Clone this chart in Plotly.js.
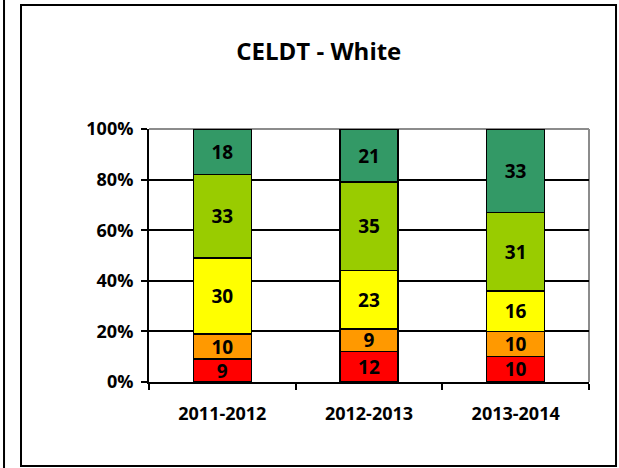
<!DOCTYPE html>
<html><head><meta charset="utf-8">
<script src="https://cdn.plot.ly/plotly-3.0.1.min.js"></script>
<style>html,body{margin:0;padding:0;background:#fff;}#chart{width:619px;height:468px;}</style>
</head><body><div id="chart"></div>
<script>
const years = ['2011-2012', '2012-2013', '2013-2014'];
const level1 = [9, 12, 10];
const level2 = [10, 9, 10];
const level3 = [30, 23, 16];
const level4 = [33, 35, 31];
const level5 = [18, 21, 33];
const seriesNames = ['Beginning', 'Early Intermediate', 'Intermediate', 'Early Advanced', 'Advanced'];
const yTickVals = [0, 20, 40, 60, 80, 100];
const yTickText = ['0%', '20%', '40%', '60%', '80%', '100%'];
const colors = ['#FF0000', '#FF9900', '#FFFF00', '#99CC00', '#339966'];
const FONT = 'Open Sans, Lato, Liberation Sans, sans-serif';

const all = [level1, level2, level3, level4, level5];
const traces = all.map((vals, i) => ({
  type: 'bar', x: years, y: vals, name: seriesNames[i],
  marker: {color: colors[i], line: {color: '#000', width: 1.5}},
  text: vals.map(String), textposition: 'inside', insidetextanchor: 'middle',
  textangle: 0, constraintext: 'none',
  textfont: {family: FONT, size: 19, color: '#000', weight: 'bold'},
  hoverinfo: 'skip'
}));

const layout = {
  width: 619, height: 468,
  margin: {l: 149, r: 30, t: 129, b: 86},
  paper_bgcolor: '#fff', plot_bgcolor: '#fff',
  barmode: 'stack', bargap: 0.605, showlegend: false,
  title: {text: '<b>CELDT - White</b>', x: 0.515, xanchor: 'center', xref: 'container',
          y: 0.889, yanchor: 'middle', yref: 'container',
          font: {family: FONT, size: 24, color: '#000'}},
  xaxis: {type: 'category', showline: true, linecolor: '#000', linewidth: 2,
          ticks: 'outside', tickson: 'boundaries', ticklen: 6, tickcolor: '#000', tickwidth: 2,
          tickfont: {family: FONT, size: 18, color: '#000', weight: 'bold'},
          ticklabelstandoff: 14, showgrid: false, zeroline: false, fixedrange: true},
  yaxis: {range: [0, 100], tickmode: 'array', tickvals: yTickVals, ticktext: yTickText,
          showline: true, linecolor: '#000', linewidth: 2,
          ticks: 'outside', ticklen: 6, tickcolor: '#000', tickwidth: 2,
          showgrid: true, gridcolor: '#000', gridwidth: 2, zeroline: false,
          tickfont: {family: FONT, size: 18, color: '#000', weight: 'bold'},
          ticklabelstandoff: 4, fixedrange: true},
  shapes: [
    {type: 'line', xref: 'paper', yref: 'paper', x0: 0, x1: 1, y0: 1, y1: 1,
     line: {color: '#8c8c8c', width: 2}, layer: 'below'},
    {type: 'line', xref: 'paper', yref: 'paper', x0: 1, x1: 1, y0: 0, y1: 1,
     line: {color: '#8c8c8c', width: 2}, layer: 'below'},
    {type: 'rect', xref: 'paper', yref: 'paper', x0: -0.2909, x1: 1.0614, y0: -0.332, y1: 1.490,
     line: {color: '#000', width: 2}, fillcolor: 'rgba(0,0,0,0)', layer: 'above'},
    {type: 'line', xref: 'paper', yref: 'paper', x0: -0.3295, x1: -0.3295, y0: -0.36, y1: 1.52,
     line: {color: '#000', width: 2}, layer: 'above'}
  ]
};
Plotly.newPlot('chart', traces, layout, {displayModeBar: false, staticPlot: true});
</script></body></html>
